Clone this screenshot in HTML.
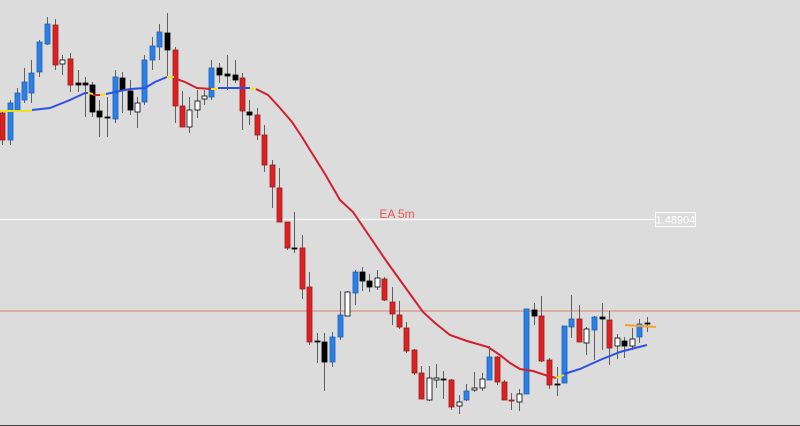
<!DOCTYPE html>
<html><head><meta charset="utf-8"><style>
html,body{margin:0;padding:0;background:#dcdcdc;}
svg{display:block;font-family:"Liberation Sans",sans-serif;}
</style></head><body>
<svg id="s" width="800" height="426" viewBox="0 0 800 426" xmlns="http://www.w3.org/2000/svg">
<rect width="800" height="426" fill="#dcdcdc"/>
<line x1="0" y1="311" x2="800" y2="311" stroke="#d9806e" stroke-width="1"/>
<line x1="0" y1="219.5" x2="650" y2="219.5" stroke="#ffffff" stroke-width="1.2"/>
<line x1="650" y1="219.5" x2="656" y2="219.5" stroke="#ffffff" stroke-width="1"/>
<rect x="655.5" y="212.5" width="40" height="14" fill="none" stroke="#ffffff" stroke-width="1"/>
<text x="675.5" y="223.5" font-size="11" fill="#ffffff" text-anchor="middle">1.48904</text>
<text x="397" y="218" font-size="12" fill="#e85555" text-anchor="middle">EA 5m</text>
<line x1="0" y1="425.5" x2="800" y2="425.5" stroke="#444" stroke-width="1"/>
<g id="c"></g>
<polyline fill="none" stroke="#f0e020" stroke-width="2" points="0,111 32,111"/>
<polyline fill="none" stroke="#3050e0" stroke-width="2" points="32,110 50,108 70,100 85,93 88,93"/>
<polyline fill="none" stroke="#f0e020" stroke-width="2" points="88,93 93,94"/>
<polyline fill="none" stroke="#d02030" stroke-width="2" points="93,95 100,95"/>
<polyline fill="none" stroke="#f0e020" stroke-width="2" points="100,95 106,94"/>
<polyline fill="none" stroke="#3050e0" stroke-width="2" points="106,94 120,91 130,89 145,88 155,82 167,77"/>
<polyline fill="none" stroke="#f0e020" stroke-width="2" points="167,77 174,77"/>
<polyline fill="none" stroke="#d02030" stroke-width="2" points="174,78 185,82 197,88 211,89"/>
<polyline fill="none" stroke="#f0e020" stroke-width="2" points="211,89 218,89"/>
<polyline fill="none" stroke="#3050e0" stroke-width="2" points="218,88 250,88"/>
<polyline fill="none" stroke="#f0e020" stroke-width="2" points="250,88 256,89"/>
<polyline fill="none" stroke="#d02030" stroke-width="2" points="256,89 268,95 280,108 292,122 302,137 310,150 325,174 340,200 353,212 370,237 387,262 405,287 423,312 435,323 450,335 467,341 488,347 500,355 510,363 520,369 533,371 545,375 556,378"/>
<polyline fill="none" stroke="#f0e020" stroke-width="2" points="556,378 564,375"/>
<polyline fill="none" stroke="#3050e0" stroke-width="2" points="564,374 580,369 600,360 620,352 635,348 647,345"/>
<line x1="625" y1="325" x2="656" y2="327" stroke="#f0a030" stroke-width="2"/>
</svg>
<script>
var d=[
[2,'R',113,140,110,145],[10,'B',103,140,100,145],[17,'B',93,110,88,112],[24,'B',82,100,68,103],[31,'B',73,93,60,103],
[39,'B',42,72,40,77],[47,'B',24,44,17,45],[55,'R',25,65,19,70],[62,'W',60,64,55,75],[70,'R',59,85,53,92],
[78,'K',83,85,70,92],[85,'K',83,85,77,117],[92,'K',85,112,82,117],[99,'K',111,117,100,137],[107,'K',117,118,97,137],
[115,'B',77,119,70,123],[122,'K',78,90,72,113],[130,'K',91,110,80,115],[137,'W',103,112,97,128],[144,'B',60,102,55,105],
[152,'B',46,60,37,70],[159,'B',32,47,24,60],[167,'K',33,50,13,77],[175,'R',50,106,47,123],[182,'R',106,127,91,127],
[189,'W',110,127,97,133],[197,'W',101,110,90,118],[204,'W',96,99,90,105],[211,'B',68,97,60,100],[219,'K',68,75,63,83],
[227,'K',74,76,55,90],[235,'K',75,80,60,83],[242,'R',78,111,73,130],[249,'K',112,115,100,125],[257,'R',115,135,108,140],
[264,'R',135,165,125,172],[272,'R',165,187,160,208],[279,'R',188,222,168,222],[287,'R',222,248,222,250],[294,'K',248,249,212,253],
[302,'R',248,289,235,299],[309,'R',287,342,272,345],[317,'K',341,342,333,363],[324,'K',342,362,333,391],[332,'B',337,362,332,367],
[340,'B',315,337,291,340],[347,'W',292,316,291,316],[355,'B',272,293,270,305],[362,'K',272,281,267,291],[369,'K',281,287,274,292],
[377,'W',278,287,270,290],[384,'R',279,300,277,301],[392,'R',302,314,287,325],[399,'R',315,327,301,329],[406,'R',328,351,322,353],
[414,'R',350,373,349,375],[421,'R',373,399,366,399],[429,'W',378,400,366,401],[436,'W',378,380,364,388],[443,'K',379,380,371,399],
[451,'R',380,407,379,410],[459,'W',402,406,395,414],[466,'B',391,400,384,401],[474,'W',388,390,372,392],[482,'W',379,388,373,391],
[489,'B',357,380,346,380],[497,'R',357,382,356,385],[504,'R',382,400,380,400],[511,'R',400,401,393,410],[519,'W',394,402,389,411],
[526,'B',309,394,309,394],[534,'K',310,316,303,325],[541,'R',316,361,296,362],[549,'R',360,385,358,389],[557,'K',384,385,367,396],
[564,'B',326,383,326,383],[571,'B',319,327,295,338],[579,'R',319,342,305,342],[586,'W',329,343,327,355],[594,'B',317,330,316,360],
[602,'K',317,319,303,350],[609,'R',320,348,311,365],[617,'W',338,346,334,359],[624,'K',341,346,337,358],[632,'W',339,346,328,350],
[639,'B',324,337,319,343],[647,'K',323,324,317,332]];
var col={R:['#e02020','#902020'],B:['#2a80e8','#2060b0'],K:['#000','#000'],W:['#fff','#000']};
var h='';
d.forEach(function(c){var x=c[0],t=c[1],a=c[2],b=Math.max(c[3],c[2]+1);
h+='<line x1="'+(x+0.5)+'" y1="'+c[4]+'" x2="'+(x+0.5)+'" y2="'+c[5]+'" stroke="#606060" stroke-width="1"/>';
h+='<rect x="'+(x-2)+'" y="'+a+'" width="5" height="'+(b-a)+'" fill="'+col[t][0]+'" stroke="'+col[t][1]+'" stroke-width="0.8"/>';});
document.getElementById('c').innerHTML=h;
</script>
</body></html>
